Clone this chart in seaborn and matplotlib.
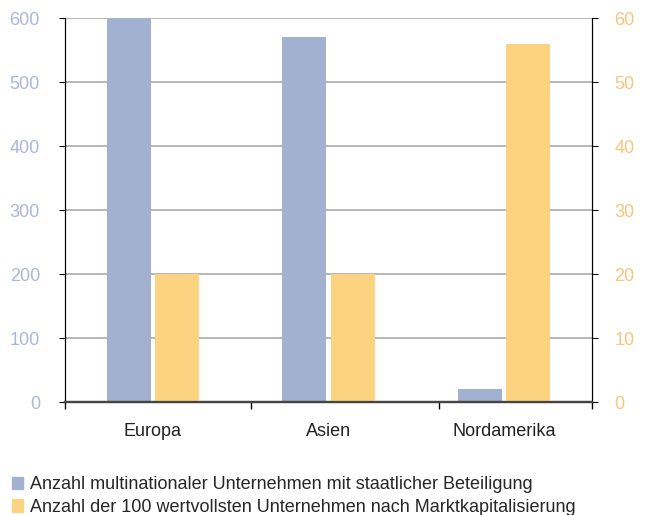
import pandas as pd
import matplotlib.pyplot as plt
import matplotlib.patches as mpatches
import seaborn as sns

# data
regions = ['Europa', 'Asien', 'Nordamerika']
staatlich = [600, 570, 20]          # left axis
wertvollste = [20, 20, 56]          # right axis
series = ['Anzahl multinationaler Unternehmen mit staatlicher Beteiligung',
          'Anzahl der 100 wertvollsten Unternehmen nach Marktkapitalisierung']
colors = ['#A2B1CF', '#FCD381']

sns.set_style('white')
plt.rcParams['font.family'] = ['Liberation Sans', 'DejaVu Sans']

# long table, other series left empty on each axis so dodge keeps both slots
df_left = pd.DataFrame({'region': regions * 2,
                        'serie': [series[0]] * 3 + [series[1]] * 3,
                        'wert': staatlich + [float('nan')] * 3})
df_right = pd.DataFrame({'region': regions * 2,
                         'serie': [series[0]] * 3 + [series[1]] * 3,
                         'wert': [float('nan')] * 3 + wertvollste})

fig = plt.figure(figsize=(6.46, 5.15), dpi=100)
ax = fig.add_axes([0.1006, 0.2194, 0.8158, 0.7456])
ax2 = ax.twinx()

sns.barplot(data=df_left, x='region', y='wert', hue='serie', hue_order=series,
            palette=colors, width=0.548, gap=0.088, ax=ax, legend=False,
            errorbar=None, saturation=1, linewidth=0)
sns.barplot(data=df_right, x='region', y='wert', hue='serie', hue_order=series,
            palette=colors, width=0.548, gap=0.088, ax=ax2, legend=False,
            errorbar=None, saturation=1, linewidth=0)

ax.set_xlim(-0.5, 2.5)
ax.set_ylim(0, 600)
ax2.set_ylim(0, 60)
ax.set_yticks(range(0, 601, 100))
ax2.set_yticks(range(0, 61, 10))
ax.set_xlabel('')
ax.set_ylabel('')
ax2.set_ylabel('')

# grid lines behind bars
ax.set_axisbelow(True)
ax.yaxis.grid(True, color='#aaaaaa', linewidth=1.2)
ax2.set_zorder(ax.get_zorder() + 1)
ax2.patch.set_visible(False)

for a in (ax, ax2):
    a.spines['top'].set_visible(False)
    a.spines['left'].set_color('black')
    a.spines['right'].set_color('black')
    a.spines['bottom'].set_color('#444444')
    a.spines['bottom'].set_linewidth(1.6)

ax.tick_params(axis='y', colors='black', labelcolor='#A9B8D8', labelsize=13,
               length=4, direction='out', left=True, pad=14)
ax2.tick_params(axis='y', colors='black', labelcolor='#F5C77E', labelsize=13,
                length=4, direction='out', right=True, pad=12)

# category labels at centres, tick marks between the categories
ax.set_xticks([-0.5, 0.56, 1.63, 2.5], minor=True)
ax.tick_params(axis='x', which='major', length=0, labelsize=13, pad=15,
               labelcolor='#222222')
ax.tick_params(axis='x', which='minor', length=5, width=1, color='black',
               direction='out', bottom=True)

handles = [mpatches.Patch(color=c, label=s) for c, s in zip(colors, series)]
fig.legend(handles=handles, loc='upper left', bbox_to_anchor=(0.008, 0.089),
           frameon=False, fontsize=13, handlelength=0.6, handleheight=0.7,
           handletextpad=0.4, labelspacing=0.3, borderaxespad=0)

fig.savefig('out.png', dpi=100)
